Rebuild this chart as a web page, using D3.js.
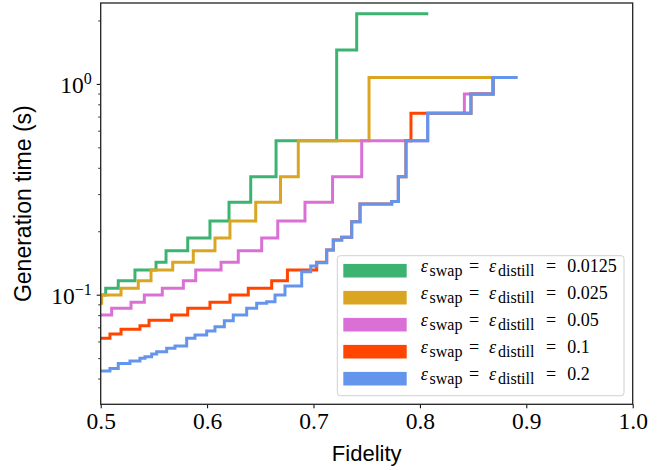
<!DOCTYPE html>
<html><head><meta charset="utf-8">
<script src="https://cdn.jsdelivr.net/npm/d3@7"></script>
<style>body{margin:0;background:#fff}</style></head>
<body>
<svg id="c" width="670" height="470"></svg>
<script>
// ---------------- data ----------------
const epsilons = ["0.0125", "0.025", "0.05", "0.1", "0.2"];
const colors = ["#3cb371", "#daa520", "#da70d6", "#ff4500", "#6495ed"];

const fidGreen  = [0.5000, 0.5047, 0.5165, 0.5322, 0.5520, 0.5614, 0.5818, 0.6027, 0.6206, 0.6410, 0.6648, 0.7218, 0.7406, 0.8079];
const timeGreen = [0.0997, 0.1073, 0.1165, 0.1310, 0.1425, 0.1618, 0.1860, 0.2238, 0.2746, 0.3631, 0.5370, 1.450, 2.149, 2.149];

const fidYellow  = [0.5000, 0.5009, 0.5191, 0.5353, 0.5473, 0.5677, 0.5870, 0.6074, 0.6215, 0.6457, 0.6690, 0.6857, 0.7522, 0.8915];
const timeYellow = [0.0910, 0.0997, 0.1073, 0.1165, 0.1310, 0.1425, 0.1618, 0.1860, 0.2238, 0.2746, 0.3631, 0.5370, 1.071, 1.071];

const fidPink  = [0.5000, 0.5103, 0.5285, 0.5410, 0.5579, 0.5777, 0.5893, 0.6131, 0.6293, 0.6513, 0.6664, 0.6920, 0.7179, 0.7453, 0.8074, 0.8418, 0.8684, 0.8915];
const timePink = [0.0801, 0.0862, 0.0920, 0.0997, 0.1073, 0.1165, 0.1310, 0.1425, 0.1618, 0.1860, 0.2238, 0.2746, 0.3631, 0.5370, 0.7261, 0.8965, 1.071, 1.071];

const fidRed  = [0.5000, 0.5087, 0.5191, 0.5369, 0.5454, 0.5667, 0.5818, 0.6027, 0.6215, 0.6387, 0.6607, 0.6755, 0.7030, 0.7124, 0.7186, 0.7265, 0.7359, 0.7437, 0.7735, 0.7797, 0.7869, 0.7916, 0.8480, 0.8690, 0.8915];
const timeRed = [0.0621, 0.0651, 0.0685, 0.0713, 0.0756, 0.0801, 0.0862, 0.0920, 0.0997, 0.1073, 0.1165, 0.1310, 0.1425, 0.1630, 0.1818, 0.1873, 0.2221, 0.2695, 0.2764, 0.3631, 0.5370, 0.7261, 0.8965, 1.071, 1.071];

const fidBlue  = [0.5000, 0.5087, 0.5165, 0.5275, 0.5369, 0.5416, 0.5479, 0.5526, 0.5620, 0.5698, 0.5808, 0.5886, 0.5996, 0.6074, 0.6162, 0.6246, 0.6372, 0.6466, 0.6560, 0.6638, 0.6732, 0.6889, 0.6974, 0.7030, 0.7124, 0.7186, 0.7265, 0.7359, 0.7437, 0.7735, 0.7797, 0.7869, 0.8073, 0.8480, 0.8690, 0.8915];
const timeBlue = [0.0434, 0.0447, 0.0472, 0.0485, 0.0499, 0.0508, 0.0523, 0.0536, 0.0557, 0.0571, 0.0621, 0.0644, 0.0672, 0.0705, 0.0752, 0.0801, 0.0862, 0.0910, 0.0926, 0.0997, 0.1100, 0.1286, 0.1368, 0.1419, 0.1630, 0.1818, 0.1873, 0.2221, 0.2695, 0.2764, 0.3631, 0.5370, 0.7261, 0.8965, 1.071, 1.071];

const xTickValues = [0.5, 0.6, 0.7, 0.8, 0.9, 1.0];
const xTickLabels = ["0.5", "0.6", "0.7", "0.8", "0.9", "1.0"];
const yMajorValues = [0.1, 1];
const yMajorExponents = ["\u22121", "0"];
const yMinorValues = [0.04, 0.05, 0.06, 0.07, 0.08, 0.09, 0.2, 0.3, 0.4, 0.5, 0.6, 0.7, 0.8, 0.9, 2];

const xLabel = "Fidelity";
const yLabel = "Generation time (s)";

// ---------------- chart ----------------
const svg = d3.select("#c");
const L = 100.7, R = 632.7, T = 3, B = 404.3;
const x = d3.scaleLinear().domain([0.5, 1.0]).range([L, R]);
const y = d3.scaleLog().domain([0.0302, 2.42]).range([B, T]);

svg.append("defs").append("clipPath").attr("id", "clip")
  .append("rect").attr("x", L).attr("y", T).attr("width", R - L).attr("height", B - T);

const series = [
  [fidGreen, timeGreen], [fidYellow, timeYellow], [fidPink, timePink],
  [fidRed, timeRed], [fidBlue, timeBlue]
];
const line = d3.line().x(d => x(d[0])).y(d => y(d[1])).curve(d3.curveStepAfter);
const g = svg.append("g").attr("clip-path", "url(#clip)");
series.forEach((s, i) => {
  const pts = s[0].map((f, j) => [f, s[1][j]]);
  g.append("path").datum(pts).attr("d", line)
    .attr("fill", "none").attr("stroke", colors[i]).attr("stroke-width", 3)
    .attr("stroke-linejoin", "miter").attr("stroke-linecap", "butt");
});

// axes
const serif = "'Liberation Serif', 'DejaVu Serif', serif";
const xAxis = svg.append("g").attr("transform", `translate(0,${B})`)
  .call(d3.axisBottom(x).tickValues(xTickValues).tickSize(4).tickFormat((d, i) => xTickLabels[i]));
xAxis.select(".domain").remove();
xAxis.selectAll("line").attr("stroke", "#000").attr("stroke-width", 1);
xAxis.selectAll("text").attr("font-family", serif).attr("font-size", 23.5).attr("fill", "#000").attr("dy", "0.75em").attr("y", 7);

const yAxis = svg.append("g").attr("transform", `translate(${L},0)`)
  .call(d3.axisLeft(y).tickValues(yMajorValues).tickSize(4).tickFormat(""));
yAxis.select(".domain").remove();
yAxis.selectAll("line").attr("stroke", "#000").attr("stroke-width", 1);
const yMinor = svg.append("g").attr("transform", `translate(${L},0)`)
  .call(d3.axisLeft(y).tickValues(yMinorValues).tickSize(2.5).tickFormat(""));
yMinor.select(".domain").remove();
yMinor.selectAll("line").attr("stroke", "#000").attr("stroke-width", 0.8);

yMajorValues.forEach((v, i) => {
  const t = svg.append("text").attr("x", L - 9).attr("y", y(v) + 9)
    .attr("text-anchor", "end").attr("font-family", serif).attr("font-size", 23.5).attr("fill", "#000");
  t.append("tspan").text("10");
  t.append("tspan").attr("dy", -9).attr("font-size", 16).text(yMajorExponents[i]);
});

// frame
svg.append("rect").attr("x", L).attr("y", T).attr("width", R - L).attr("height", B - T)
  .attr("fill", "none").attr("stroke", "#222").attr("stroke-width", 1.3);

// axis labels
const sans = "'Liberation Sans', Arial, sans-serif";
svg.append("text").attr("x", (L + R) / 2).attr("y", 461).attr("text-anchor", "middle")
  .attr("font-family", sans).attr("font-size", 22).attr("fill", "#000").text(xLabel);
svg.append("text").attr("transform", `translate(31,${(T + B) / 2}) rotate(-90)`).attr("text-anchor", "middle")
  .attr("font-family", sans).attr("font-size", 23).attr("fill", "#000").text(yLabel);

// legend
const lg = svg.append("g");
lg.append("rect").attr("x", 337.3).attr("y", 255.7).attr("width", 286.7).attr("height", 140).attr("rx", 3)
  .attr("fill", "#fff").attr("fill-opacity", 0.85).attr("stroke", "#d0d0d0").attr("stroke-width", 1);
epsilons.forEach((e, i) => {
  const cy = 270.7 + i * 27;
  lg.append("rect").attr("x", 343.3).attr("y", cy - 6.8).attr("width", 63.4).attr("height", 13.6).attr("fill", colors[i]);
  const t = lg.append("text").attr("y", cy + 1.5).attr("font-family", serif).attr("font-size", 18).attr("fill", "#000");
  t.append("tspan").attr("x", 420.7).attr("font-style", "italic").text("\u03b5");
  t.append("tspan").attr("x", 429.5).attr("dy", 4).attr("font-size", 16).text("swap");
  t.append("tspan").attr("x", 469).attr("dy", -4).text("=");
  t.append("tspan").attr("x", 489).attr("font-style", "italic").text("\u03b5");
  t.append("tspan").attr("x", 498).attr("dy", 4).attr("font-size", 16).text("distill");
  t.append("tspan").attr("x", 546).attr("dy", -4).text("=");
  t.append("tspan").attr("x", 567.3).text(e);
});
</script>
</body></html>
